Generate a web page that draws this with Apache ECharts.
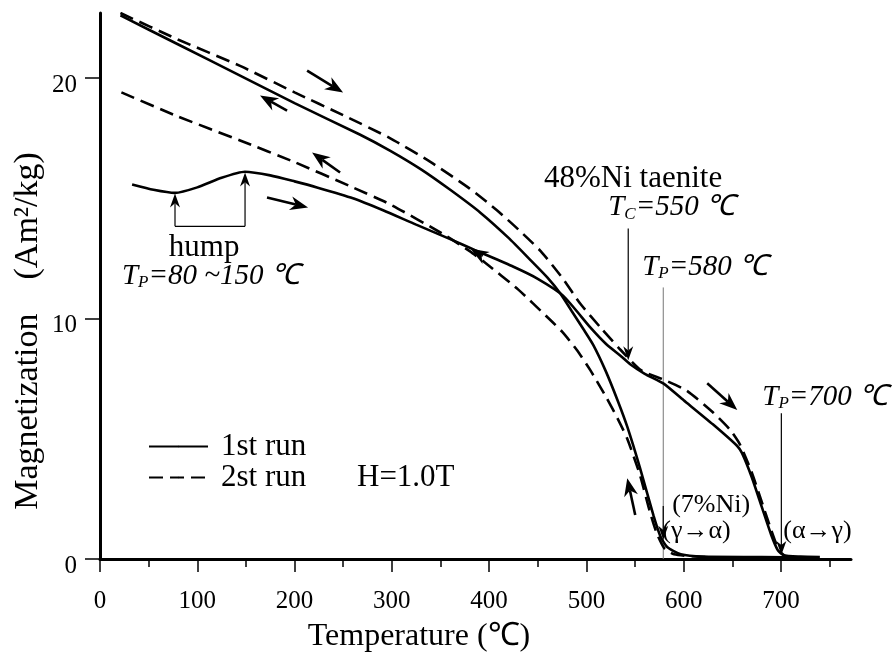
<!DOCTYPE html>
<html><head><meta charset="utf-8">
<script src="https://cdn.jsdelivr.net/npm/echarts@6/dist/echarts.min.js"></script>
<style>html,body{margin:0;padding:0;background:#fff}#c{width:892px;height:660px}</style>
</head><body><div id="c"></div>
<script>
const SERIF = '"Liberation Serif","Times New Roman",serif';

// ---- data (Temperature °C, Magnetization Am2/kg) ----
const run1HeatT = [33,55,77,100,125,149,175,200,223,260,291,325,360,385,425,450,476,504,520,535,545,560,579,600,630,655,660,670,680,690,697,703,720,740];
const run1HeatM = [15.57,15.35,15.22,15.45,15.85,16.1,15.95,15.7,15.45,15.0,14.5,13.9,13.3,12.85,12.15,11.65,10.95,9.63,8.95,8.45,8.1,7.7,7.3,6.6,5.6,4.7,4.4,3.4,2.2,1.0,0.35,0.15,0.1,0.08];
const run1CoolT = [21,80,144,200,267,298,330,360,391,420,442,460,473,485,497,507,520,532,542,555,569,576,583,597,620,680,730];
const run1CoolM = [22.6,21.4,20.1,18.95,17.65,16.98,16.2,15.35,14.4,13.35,12.45,11.7,11.05,10.3,9.55,8.9,7.8,6.6,5.5,3.8,1.8,0.95,0.5,0.2,0.1,0.08,0.05];
const run2HeatT = [21,80,144,200,250,298,340,380,408,430,453,475,494,515,535,556,580,603,630,648,658,670,680,690,698,705,730];
const run2HeatM = [22.7,21.6,20.5,19.4,18.45,17.5,16.5,15.4,14.5,13.7,12.8,11.7,10.6,9.6,8.7,7.85,7.45,7.0,6.1,5.36,4.75,3.6,2.4,1.2,0.35,0.12,0.05];
const run2CoolT = [22,80,144,200,257,298,353,380,395,430,460,475,490,504,520,532,542,555,565,572,580,590,620,700,730];
const run2CoolM = [19.4,18.4,17.4,16.5,15.5,14.75,13.5,12.8,12.35,11.2,10.05,9.45,8.7,7.85,6.75,5.85,5.0,3.5,2.0,1.1,0.45,0.2,0.08,0.06,0.04];

const xMajorTicks = [0,100,200,300,400,500,600,700];
const xMinorTicks = [50,150,250,350,450,550,650,750];
const yTicks = [0,10,20];
const legendNames = ['1st run','2st run'];

// direction arrows [T_tail, M_tail, T_head, M_head]
const dirArrows = [
  [212.9,20.3, 249.9,19.39],
  [192.3,18.64, 164.5,19.27],
  [246.8,16.07, 218.0,16.9],
  [171.7,15.03, 213.9,14.61],
  [550.2,1.83, 542.0,3.36],
  [624.2,7.31, 655.1,6.19],
  [393.5,12.6, 381.0,12.9]
];
// pointer arrows (thin)
const pointerArrows = [
  [543,13.74, 543,8.26],
  [700.4,6.06, 700.4,0.17],
  [77.1,13.83, 77.1,15.2],
  [149.1,13.83, 149.1,16.07],
  [579,2.2, 579,0.8]
];
const humpBracket = [77.1,149.1,13.83];
const tp580Line = [579, 11.29, 0];

// annotations [text(rich), T, M, align, style]
const notes = [
  ['hump', 107, 12.95, 'center', 'n'],
  ['{i|T}{s|P}{i|=80 ~150 ℃}', 22.6, 11.75, 'left', 'r'],
  ['48%Ni taenite', 548, 15.82, 'center', 'n'],
  ['{i|T}{s|C}{i|=550 ℃}', 522.4, 14.6, 'left', 'r'],
  ['{i|T}{s|P}{i|=580 ℃}', 557.4, 12.12, 'left', 'r'],
  ['{i|T}{s|P}{i|=700 ℃}', 680.8, 6.73, 'left', 'r'],
  ['(7%Ni)', 588.2, 2.24, 'left', 'sm'],
  ['(γ→α)', 578, 1.16, 'left', 'sm'],
  ['(α→γ)', 702.4, 1.16, 'left', 'sm']
];

function zip(a,b){return a.map((v,i)=>[v,b[i]]);}
const solid = {color:'#000', width:2.6, type:'solid'};
const dashed = {color:'#000', width:2.6, type:[14,7]};
function mkSeries(name, T, M, ls){
  return {type:'line', name, data: zip(T,M), symbol:'none', showSymbol:false,
    smooth:0.2, lineStyle: ls, itemStyle:{color:'#000'}, z:3};
}

const option = {
  animation:false,
  backgroundColor:'#fff',
  grid:{left:100, right:41, top:13, bottom:101, containLabel:false},
  legend:{
    orient:'vertical', left:148, top:431, padding:0, itemWidth:59, itemHeight:2, itemGap:0,
    data: legendNames,
    textStyle:{fontFamily:SERIF, fontSize:31, color:'#000', lineHeight:31, padding:[0,0,0,8]},
    selectedMode:false
  },
  xAxis:[{
    type:'value', min:0, max:772, interval:100, position:'bottom',
    axisLine:{show:true, lineStyle:{color:'#000', width:3}},
    axisTick:{show:true, length:13, inside:false, customValues:xMajorTicks, lineStyle:{color:'#000', width:1.5}},
    axisLabel:{customValues:xMajorTicks, margin:30, fontFamily:SERIF, fontSize:25, color:'#000'},
    splitLine:{show:false}
  },{
    type:'value', min:0, max:772, interval:100, position:'bottom',
    axisLine:{show:false},
    axisTick:{show:true, length:8, customValues:xMinorTicks, lineStyle:{color:'#000', width:1.5}},
    axisLabel:{show:false}, splitLine:{show:false}
  }],
  yAxis:{
    type:'value', min:0, max:22.7, interval:10,
    axisLine:{show:true, lineStyle:{color:'#000', width:3}},
    axisTick:{show:true, length:15, customValues:yTicks, lineStyle:{color:'#000', width:1.5}},
    axisLabel:{customValues:yTicks, margin:23, fontFamily:SERIF, fontSize:25, color:'#000', verticalAlign:'top', lineHeight:14},
    splitLine:{show:false}
  },
  series:[
    mkSeries('1st run', run1HeatT, run1HeatM, solid),
    mkSeries('1st run', run1CoolT, run1CoolM, solid),
    mkSeries('2st run', run2HeatT, run2HeatM, dashed),
    mkSeries('2st run', run2CoolT, run2CoolM, dashed)
  ]
};

const chart = echarts.init(document.getElementById('c'), null, {renderer:'canvas'});
chart.setOption(option);

const P = (t,m) => chart.convertToPixel({xAxisIndex:0, yAxisIndex:0}, [t,m]);
const g = [];
function arrow(a, L, W, lw){
  const p0 = P(a[0],a[1]), p1 = P(a[2],a[3]);
  const dx = p1[0]-p0[0], dy = p1[1]-p0[1], len = Math.hypot(dx,dy);
  const ux = dx/len, uy = dy/len, nx = -uy, ny = ux;
  const bx = p1[0]-ux*L, by = p1[1]-uy*L;
  const kx = p1[0]-ux*(L*0.7), ky = p1[1]-uy*(L*0.7);
  g.push({type:'line', shape:{x1:p0[0], y1:p0[1], x2:kx, y2:ky}, style:{stroke:'#000', lineWidth:lw}, z:10});
  g.push({type:'polygon', shape:{points:[[p1[0],p1[1]],[bx+nx*W,by+ny*W],[kx,ky],[bx-nx*W,by-ny*W]]}, style:{fill:'#000'}, z:10});
}
dirArrows.forEach(a => arrow(a, 18, 7, 2.6));
pointerArrows.forEach(a => arrow(a, 14, 5, 1.2));
(function(){
  const a = P(humpBracket[0], humpBracket[2]), b = P(humpBracket[1], humpBracket[2]);
  g.push({type:'line', shape:{x1:a[0],y1:a[1],x2:b[0],y2:b[1]}, style:{stroke:'#000', lineWidth:1.2}, z:10});
  const t = P(tp580Line[0], tp580Line[1]), u = P(tp580Line[0], tp580Line[2]);
  g.push({type:'line', shape:{x1:t[0],y1:t[1],x2:u[0],y2:u[1]}, style:{stroke:'#777', lineWidth:1}, z:2});
})();
const rich = {
  i:{fontFamily:SERIF, fontStyle:'italic', fontSize:29, lineHeight:30, fill:'#000'},
  s:{fontFamily:SERIF, fontStyle:'italic', fontSize:17, lineHeight:17, verticalAlign:'bottom', fill:'#000'}
};
notes.forEach(n => {
  const p = P(n[1], n[2]);
  const size = n[4]==='sm' ? 26 : 31;
  g.push({type:'text', x:p[0], y:p[1], z:11, style:{
    text:n[0], rich: n[4]==='r' ? rich : undefined,
    font: size+'px '+SERIF, fill:'#000', align:n[3], verticalAlign:'middle'}});
});
g.push({type:'text', x:357, y:478, z:11, style:{text:'H=1.0T', font:'31px '+SERIF, fill:'#000', align:'left', verticalAlign:'middle'}});
g.push({type:'text', x:419, y:637, z:11, style:{text:'Temperature (℃)', font:'32px '+SERIF, fill:'#000', align:'center', verticalAlign:'middle'}});
g.push({type:'text', x:28, y:331, rotation:Math.PI/2, z:11, style:{text:'Magnetization    (Am²/kg)', font:'34px '+SERIF, fill:'#000', align:'center', verticalAlign:'middle'}});
chart.setOption({graphic: g});
</script></body></html>
